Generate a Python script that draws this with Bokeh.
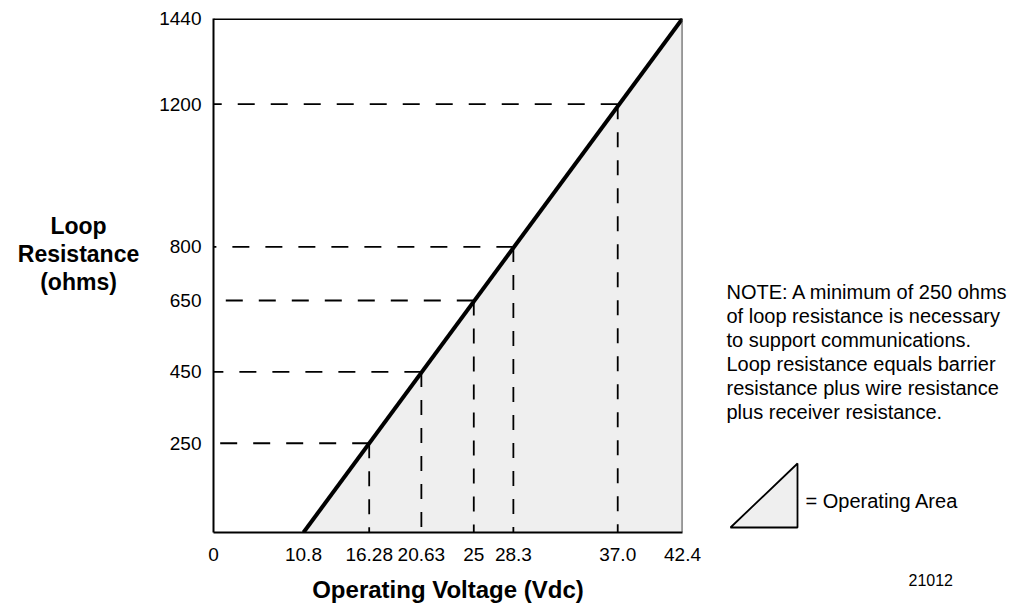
from bokeh.plotting import figure
from bokeh.layouts import row
from bokeh.models import Range1d, FixedTicker, Span, Title
from bokeh.core.properties import value
from bokeh.embed import file_html
from bokeh.resources import INLINE

# ---- data ----
line_voltage = [10.8, 42.4]
line_resistance = [0, 1440]
marked_voltage = [16.28, 20.63, 25, 28.3, 37.0]
marked_resistance = [250, 450, 650, 800, 1200]
x_tick_values = [0, 10.8, 16.28, 20.63, 25, 28.3, 37.0, 42.4]
x_tick_labels = ["0", "10.8", "16.28", "20.63", "25", "28.3", "37.0", "42.4"]
y_tick_values = [250, 450, 650, 800, 1200, 1440]
y_tick_labels = ["250", "450", "650", "800", "1200", "1440"]
y_label_lines = ["Loop", "Resistance", "(ohms)"]
x_label = "Operating Voltage (Vdc)"
note_lines = [
    "NOTE: A minimum of 250 ohms",
    "of loop resistance is necessary",
    "to support communications.",
    "Loop resistance equals barrier",
    "resistance plus wire resistance",
    "plus receiver resistance.",
]
legend_text = ["= Operating Area"]
figure_id = "21012"

# the x axis is drawn broken: its origin "0" sits at this position
AXIS_BREAK = 3.3
FONT = "Liberation Sans"
H = 613
FRAME_TOP, FRAME_BOTTOM = 18, 532
LEFT_W = 150
MAIN_W = 562
RIGHT_W = 313

x_ticks = [AXIS_BREAK if v == 0 else v for v in x_tick_values]
x_over = {t: l for t, l in zip(x_ticks, x_tick_labels)}
y_over = {t: l for t, l in zip(y_tick_values, y_tick_labels)}


def panel(width, x0):
    # side panels: their frames get aligned with the main frame by the row,
    # so their y range mirrors the page rows covered by that frame
    f = figure(width=width, height=H, output_backend="svg", toolbar_location=None,
               x_range=Range1d(x0, x0 + width),
               y_range=Range1d(FRAME_BOTTOM, FRAME_TOP),
               x_axis_location=None, y_axis_location=None,
               min_border_left=0, min_border_right=0,
               min_border_top=FRAME_TOP, min_border_bottom=H - FRAME_BOTTOM)
    f.grid.visible = False
    f.outline_line_color = None
    return f


# ---------- left panel: y-axis title ----------
left = panel(LEFT_W, 0)
left.text(x=[78] * 3, y=[225, 253, 281], text=y_label_lines,
          text_font=value(FONT), text_font_style="bold", text_font_size="23px",
          text_align="center", text_baseline="middle", text_color="black")

# ---------- main chart ----------
p = figure(width=MAIN_W, height=H, output_backend="svg", toolbar_location=None,
           x_range=Range1d(AXIS_BREAK, 42.4), y_range=Range1d(0, 1440),
           min_border_left=63, min_border_right=30, min_border_top=FRAME_TOP,
           min_border_bottom=H - FRAME_BOTTOM)
p.outline_line_color = None
p.grid.visible = False

p.varea(x=line_voltage, y1=[0, 0], y2=line_resistance, fill_color="#efefef")

p.segment(x0=marked_voltage, y0=marked_resistance,
          x1=[AXIS_BREAK] * len(marked_voltage), y1=marked_resistance,
          line_color="black", line_width=1.8, line_dash="17 16")
p.segment(x0=marked_voltage, y0=marked_resistance,
          x1=marked_voltage, y1=[0] * len(marked_voltage),
          line_color="black", line_width=1.8, line_dash="15 13")

p.line(line_voltage, line_resistance, line_color="black", line_width=4)

p.add_layout(Span(location=1440, dimension="width", line_color="black", line_width=3))
p.add_layout(Span(location=42.4, dimension="height", line_color="#333333", line_width=1.8))

xa = p.xaxis[0]
xa.ticker = FixedTicker(ticks=x_ticks)
xa.major_label_overrides = x_over
xa.axis_line_width = 1.8
xa.axis_line_color = "black"
xa.major_tick_line_color = None
xa.minor_tick_line_color = None
xa.major_label_text_font = FONT
xa.major_label_text_font_size = "19px"
xa.major_label_text_color = "black"
xa.major_label_standoff = 9
xa.axis_label = x_label
xa.axis_label_text_font = FONT
xa.axis_label_text_font_style = "bold"
xa.axis_label_text_font_size = "24px"
xa.axis_label_text_color = "black"
xa.axis_label_standoff = 12

ya = p.yaxis[0]
ya.ticker = FixedTicker(ticks=y_tick_values)
ya.major_label_overrides = y_over
ya.axis_line_width = 2
ya.axis_line_color = "black"
ya.major_tick_line_color = None
ya.minor_tick_line_color = None
ya.major_label_text_font = FONT
ya.major_label_text_font_size = "19px"
ya.major_label_text_color = "black"
ya.major_label_standoff = 6

# ---------- right panel: note and legend ----------
x0r = LEFT_W + MAIN_W
right = panel(RIGHT_W, x0r)
right.text(x=[726] * len(note_lines), y=[291 + 24 * i for i in range(len(note_lines))],
           text=note_lines, text_font=value(FONT), text_font_size="20px",
           text_align="left", text_baseline="middle", text_color="black")
right.patch(x=[730, 797, 797], y=[527, 463, 527], fill_color="#efefef",
            line_color="black", line_width=1.8)
right.text(x=[805], y=[500], text=legend_text, text_font=value(FONT),
           text_font_size="20px", text_align="left", text_baseline="middle",
           text_color="black")
right.add_layout(Title(text="\n" + figure_id, align="left", offset=196, standoff=40,
                       vertical_align="bottom",
                       text_font=FONT, text_font_size="16px",
                       text_font_style="normal", text_color="black"), "below")

layout = row(left, p, right, spacing=0)
open("out.html", "w").write(file_html(layout, INLINE))
